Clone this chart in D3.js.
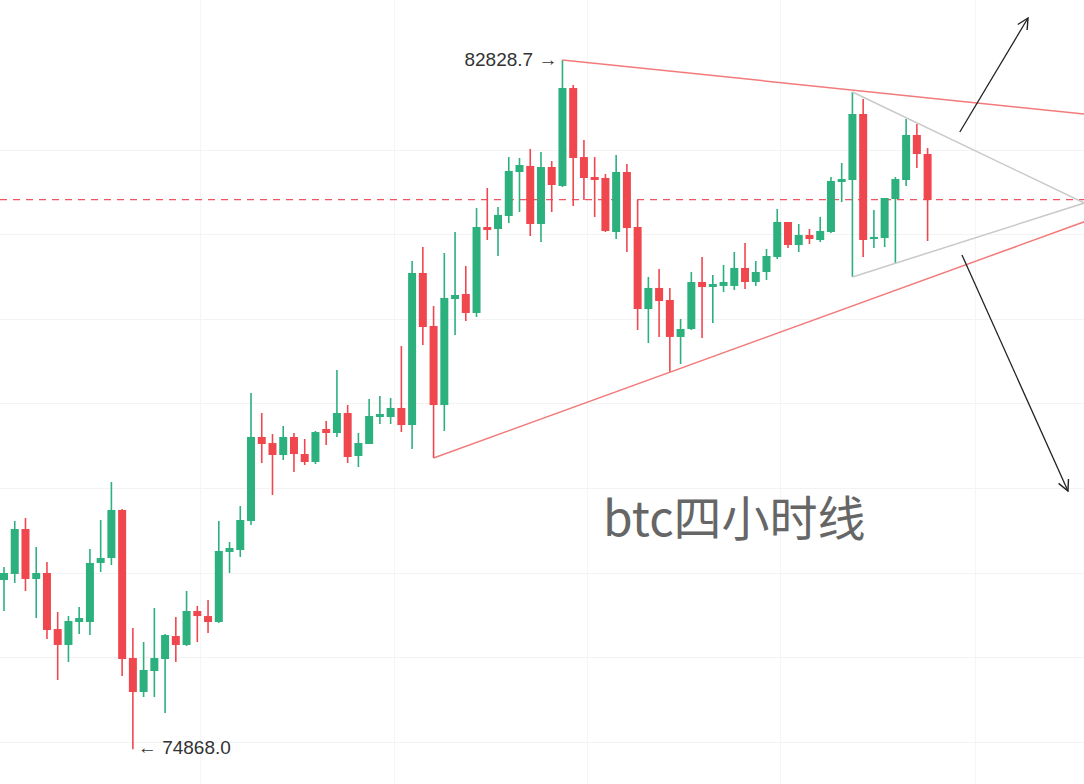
<!DOCTYPE html>
<html>
<head>
<meta charset="utf-8">
<script src="https://cdn.jsdelivr.net/npm/d3@7"></script>
<style>
  html, body { margin: 0; padding: 0; background: #ffffff; }
  svg { display: block; }
</style>
</head>
<body>
<svg id="chart" width="1084" height="784"></svg>
<script>
// ---- Data (BTC 4h candles) ----
const opens = [76823,76893,77412,76835,76904,76257,76073,76338,76338,77020,77077,77632,75922,75530,75772,75911,76176,76073,76465,76407,
  76338,77147,77170,77505,78475,78405,78267,78475,78278,78186,78567,78521,78752,78255,78394,78706,78706,78810,78613,80369,
  79757,78844,80068,80126,79907,80900,80877,81027,81535,81605,80935,81593,81374,82505,81708,81477,81466,80842,81535,80900,
  79953,80196,80057,79630,79722,80265,80207,80219,80219,80427,80265,80380,80554,80958,80692,80808,80750,80842,81420,81443,
  82205,80761,80773,81223,81443,81963,81743];
const highs = [76973,77505,77539,77204,77031,76454,76407,76511,77181,77516,77955,77643,76269,76107,76500,76200,76396,76696,76523,76592,
  77505,77262,77678,78983,78752,78509,78602,78521,78452,78544,78660,79249,78844,78521,78914,78948,78925,79526,80507,80669,
  79988,80600,80842,80450,81119,81350,81131,81708,81697,81801,81766,81662,82828.7,82540,81905,81708,81512,81732,81628,81212,
  80323,80415,80196,79838,80380,80554,80346,80461,80611,80715,80507,80646,81108,80958,80935,80877,81016,81477,81639,82459,
  82378,81096,81235,81477,82147,82090,81812];
const lows = [76465,76789,76696,76384,76142,75668,75876,76200,76188,76916,76996,75715,74868.0,75472,75472,75287,75876,76061,76107,76211,
  76327,76904,77089,77458,78174,77805,78209,78071,78151,78163,78382,78475,78174,78128,78394,78625,78625,78532,78336,79537,
  78232,78544,79653,79814,79861,80750,80565,80946,81073,80796,80727,81073,81362,81143,81212,81016,80842,80761,80611,79710,
  79560,79630,79225,79318,79710,79618,79791,80149,80172,80184,80219,80288,80530,80657,80611,80704,80727,80831,81189,80323,
  80554,80657,80669,80484,81374,81581,80738];
const closes = [76904,77412,76835,76904,76246,76073,76350,76384,77020,77077,77632,75911,75530,75784,75922,76188,76073,76465,76407,76338,
  77158,77193,77516,78475,78394,78267,78475,78278,78186,78532,78521,78752,78244,78405,78717,78740,78810,78613,80369,79745,
  78844,80080,80115,79907,80900,80865,81039,81547,81616,80935,81593,81385,82505,81697,81466,81443,80854,81535,80888,79953,
  80196,80045,79630,79722,80265,80207,80242,80265,80427,80265,80380,80565,80958,80692,80808,80761,80854,81431,81454,82205,
  80750,80785,81235,81454,81963,81743,81212];

// annotation data: [candle index, price]
const maxLabel = "82828.7";
const minLabel = "74868.0";
const maxIndex = 52, maxPrice = 82828.7;
const minIndex = 12, minPrice = 74868.0;
const refPrice = 81217;                       // dashed horizontal level
const upperRed = [[52, 82828.7], [100.6, 82205]];
const lowerRed = [[40, 78232], [100.6, 80961]];
const grayUpper = [[79, 82459], [100.6, 81177]];
const grayLower = [[79, 80323], [100.6, 81177]];
const arrowUp = [[89.0, 81997], [95.35, 83314]];
const arrowDown = [[89.2, 80577], [99.07, 77851]];
const gridPrices = [81789, 80819, 79837, 78867, 77886, 76904, 75934, 74952];
const gridIndices = [18.25, 36.3, 54.3, 72.3, 90.4];
const title = "btc四小时线";

// ---- Layout ----
const W = 1084, H = 784;
const svg = d3.select("#chart");
const x = d3.scaleLinear().domain([0, 86]).range([4, 927.6]);
const y = d3.scaleLinear().domain([74868.0, 82828.7]).range([749.3, 60]);
const GREEN = "#2bb07e", RED = "#f0474f";
const bodyW = 8;

// grid
svg.append("g").selectAll("line").data(gridPrices).join("line")
  .attr("x1", 0).attr("x2", W)
  .attr("y1", d => Math.round(y(d)) + 0.5).attr("y2", d => Math.round(y(d)) + 0.5)
  .attr("stroke", "#f3f3f3").attr("stroke-width", 1);
svg.append("g").selectAll("line").data(gridIndices).join("line")
  .attr("y1", 0).attr("y2", H)
  .attr("x1", d => Math.round(x(d)) + 0.5).attr("x2", d => Math.round(x(d)) + 0.5)
  .attr("stroke", "#f5f5f5").attr("stroke-width", 1);

// dashed reference line
svg.append("line")
  .attr("x1", 0).attr("x2", W)
  .attr("y1", y(refPrice)).attr("y2", y(refPrice))
  .attr("stroke", "#ec5562").attr("stroke-width", 1.3)
  .attr("stroke-dasharray", "7,6");

// candles
const idx = d3.range(opens.length);
const g = svg.append("g");
g.selectAll("line.wick").data(idx).join("line")
  .attr("class", "wick")
  .attr("x1", i => x(i)).attr("x2", i => x(i))
  .attr("y1", i => y(highs[i])).attr("y2", i => y(lows[i]))
  .attr("stroke", i => closes[i] >= opens[i] ? GREEN : RED)
  .attr("stroke-width", 1.6);
g.selectAll("rect.body").data(idx).join("rect")
  .attr("class", "body")
  .attr("x", i => x(i) - bodyW / 2)
  .attr("width", bodyW)
  .attr("y", i => y(Math.max(opens[i], closes[i])))
  .attr("height", i => Math.max(2, Math.abs(y(opens[i]) - y(closes[i]))))
  .attr("fill", i => closes[i] >= opens[i] ? GREEN : RED);

// trend lines
const line = d3.line().x(d => x(d[0])).y(d => y(d[1]));
[upperRed, lowerRed].forEach(pts => {
  svg.append("path").attr("d", line(pts))
    .attr("fill", "none").attr("stroke", "#f27a7a").attr("stroke-width", 1.5);
});
[grayUpper, grayLower].forEach(pts => {
  svg.append("path").attr("d", line(pts))
    .attr("fill", "none").attr("stroke", "#c9c9c9").attr("stroke-width", 1.5);
});

// arrows
const defs = svg.append("defs");
defs.append("marker").attr("id", "head")
  .attr("viewBox", "0 0 12 12").attr("refX", 11).attr("refY", 6)
  .attr("markerWidth", 13).attr("markerHeight", 13)
  .attr("markerUnits", "userSpaceOnUse").attr("orient", "auto")
  .append("path").attr("d", "M1,1 L11,6 L1,11")
  .attr("fill", "none").attr("stroke", "#222").attr("stroke-width", 1.3);
[arrowUp, arrowDown].forEach(pts => {
  svg.append("path").attr("d", line(pts))
    .attr("fill", "none").attr("stroke", "#222").attr("stroke-width", 1.3)
    .attr("marker-end", "url(#head)");
});

// extreme labels
svg.append("text")
  .attr("x", x(maxIndex) - 5).attr("y", y(maxPrice) + 6)
  .attr("text-anchor", "end")
  .attr("font-family", "Liberation Sans, Arial, sans-serif")
  .attr("font-size", 19).attr("fill", "#333")
  .text(maxLabel + " →");
svg.append("text")
  .attr("x", x(minIndex) + 5).attr("y", y(minPrice) + 5)
  .attr("text-anchor", "start")
  .attr("font-family", "Liberation Sans, Arial, sans-serif")
  .attr("font-size", 19).attr("fill", "#333")
  .text("← " + minLabel);

// title
svg.append("text")
  .attr("x", 603).attr("y", 536)
  .attr("font-family", "Noto Sans CJK SC, Noto Sans, sans-serif")
  .attr("font-size", 48).attr("fill", "#666")
  .text(title);
</script>
</body>
</html>
